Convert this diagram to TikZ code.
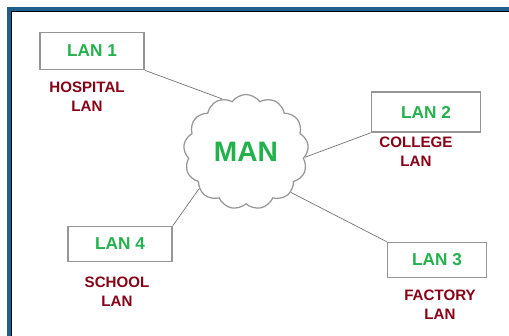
\documentclass[tikz,border=0pt]{standalone}
\usepackage{fontspec}
\setmainfont{Liberation Sans}
\usetikzlibrary{shapes.symbols}
\definecolor{langreen}{RGB}{34,177,76}
\definecolor{lanred}{RGB}{136,0,21}
\definecolor{frameblue}{RGB}{31,95,140}
\definecolor{boxgray}{RGB}{150,150,150}
\definecolor{linegray}{RGB}{115,115,115}
\begin{document}
\begin{tikzpicture}[x=0.02cm,y=-0.02cm]
            \useasboundingbox (0,0) rectangle (509,335);
            \begin{scope}
                \clip (0,0) rectangle (509,335);
                \draw[frameblue, line width=2.3pt] (9,345) -- (9,9) -- (520,9);
                \draw[black, line width=0.7pt] (11.7,345) -- (11.7,11.7) -- (520,11.7);
            \end{scope}

            \begin{scope}[every node/.style={rectangle, draw=boxgray, line width=0.9pt,
                    minimum width=2.08cm, minimum height=0.74cm, text=langreen,
                    font=\fontsize{9.8}{11}\selectfont\bfseries}]
                \node (lan1) at (92,51) {LAN 1};
                \node[minimum width=2.18cm, minimum height=0.8cm] (lan2) at (426,112) {LAN 2};
                \node[minimum width=1.98cm, minimum height=0.7cm] (lan3) at (437,260) {LAN 3};
                \node[minimum height=0.7cm] (lan4) at (120,244) {LAN 4};
            \end{scope}

            \begin{scope}[every node/.style={align=center, text=lanred,
                    font=\fontsize{8.6}{10.8}\selectfont\bfseries}]
                \node (hospital) at (87,97) {HOSPITAL\\LAN};
                \node (college) at (416,152) {COLLEGE\\LAN};
                \node (factory) at (440,305) {FACTORY\\LAN};
                \node (school) at (117,292) {SCHOOL\\LAN};
            \end{scope}

            \node[cloud, draw=boxgray, line width=0.7pt, cloud puffs=13, cloud puff arc=110,
                cloud ignores aspect, minimum width=2.5cm, minimum height=2.3cm,
                text=langreen, font=\fontsize{16}{18}\selectfont\bfseries] (man) at (246,152) {MAN};

            \path[draw=linegray] (lan1.south east) edge (man.114);
            \path[draw=linegray] (lan2.south west) edge (man.-5);
            \path[draw=linegray] (lan3.north west) edge (man.-42);
            \path[draw=linegray] (lan4.north east) edge (man.218);
        \end{tikzpicture}
\end{document}
